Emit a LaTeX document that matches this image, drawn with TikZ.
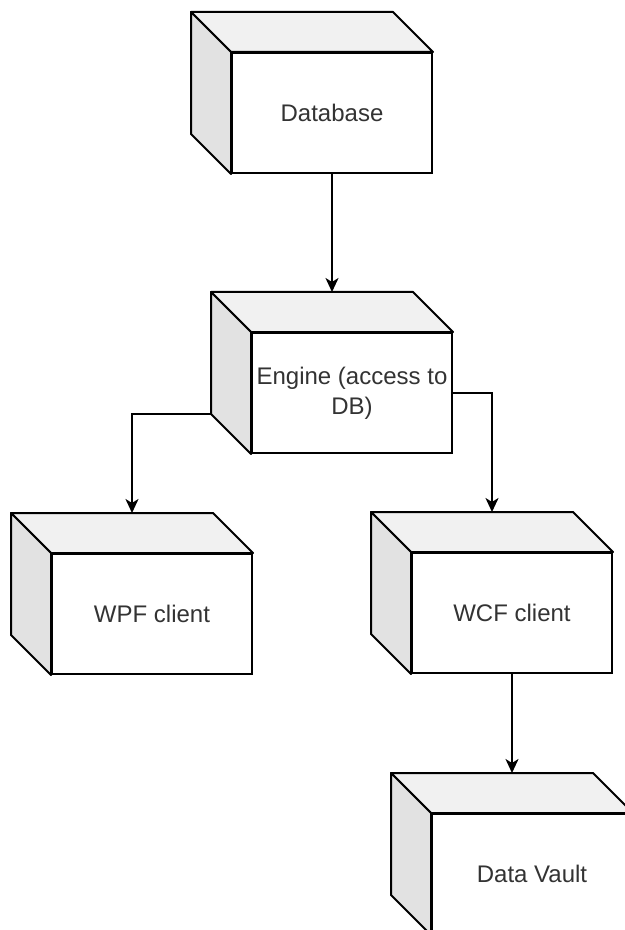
\documentclass[tikz,border=0pt]{standalone}
\usepackage{fontspec}
\setmainfont{Liberation Sans}
\usetikzlibrary{arrows.meta}
\definecolor{topgray}{HTML}{F1F1F1}
\definecolor{sidegray}{HTML}{E2E2E2}
\definecolor{labelgray}{HTML}{333333}
\tikzset{box/.style={draw,line width=1pt,fill=white,minimum width=100pt,
           minimum height=60pt,inner sep=1pt,align=center,
           font=\fontsize{12}{15}\selectfont,text=labelgray},
         face/.style={draw,line width=1pt,line join=round},
         link/.style={draw,line width=1pt,
           -{Stealth[length=7pt,width=6.5pt,inset=2pt]}}}

\begin{document}
\begin{tikzpicture}[x=0.5pt,y=-0.5pt]
\useasboundingbox (0,0) rectangle (625,930);
\clip (0,0) rectangle (625,930);
% front faces
\node[box] (db)     at (332,113) {Database};
\node[box] (engine) at (352,393) {Engine (access to\\DB)};
\node[box] (wpf)    at (152,614) {WPF client};
\node[box] (wcf)    at (512,613) {WCF client};
\node[box] (vault)  at (532,874) {Data Vault};
% top and side faces
\foreach \n in {db,engine,wpf,wcf,vault}{
  \draw[face,fill=topgray] (\n.north west) -- ++(-20pt,20pt)
    -- ([shift={(-20pt,20pt)}]\n.north east) -- (\n.north east) -- cycle;
  \draw[face,fill=sidegray] (\n.north west) -- ++(-20pt,20pt)
    -- ([shift={(-20pt,20pt)}]\n.south west) -- (\n.south west) -- cycle;
  \coordinate (\n-top) at ([shift={(-10pt,20pt)}]\n.north);
  \coordinate (\n-corner) at ([shift={(-20pt,20pt)}]\n.south west);
}
% connectors
\draw[link] (db.south) -- (engine-top);
\draw[link] (engine-corner) -| (wpf-top);
\draw[link] (engine.east) -| (wcf-top);
\draw[link] (wcf.south) -- (vault-top);
\end{tikzpicture}
\end{document}
